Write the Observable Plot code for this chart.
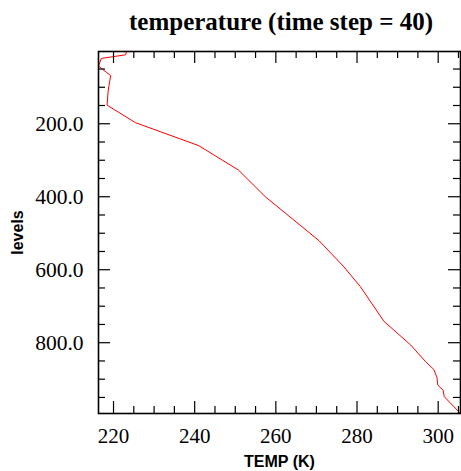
<!DOCTYPE html>
<html>
<head>
<meta charset="utf-8">
<script src="https://cdn.jsdelivr.net/npm/d3@7"></script>
<script src="https://cdn.jsdelivr.net/npm/@observablehq/plot@0.6"></script>
<style>
  html, body { margin: 0; padding: 0; background: #ffffff; }
  svg { display: block; }
</style>
</head>
<body>
<div id="chart"></div>
<script>
const titleText = "temperature (time step = 40)";
const xLabel = "TEMP (K)";
const yLabel = "levels";

// Temperature profile (K) vs model level
const temps  = [223.2, 223.0, 217.0, 216.3, 217.0, 219.3, 218.7, 218.4, 225.4, 241.0, 250.8, 257.4, 270.6, 276.6, 280.8, 286.6, 293.2, 296.9, 298.9, 299.7, 299.9, 301.2, 301.5, 305.5];
const levels = [2,     11,    21,    42,    48,    68,    108,   149,   197,   260,   327,   400,   520,   590,   646,   741,   806,   852,   873,   895,   916,   930,   948,   994];

const xMajorTicks = [220, 240, 260, 280, 300];
const xMinorTicks = [225, 230, 235, 245, 250, 255, 265, 270, 275, 285, 290, 295, 305];
const yMajorTicks = [200, 400, 600, 800];
const yMinorTicks = [50, 100, 150, 250, 300, 350, 450, 500, 550, 650, 700, 750, 850, 900, 950];

const data = temps.map((t, i) => ({t, p: levels[i]}));

const W = 461, H = 471, mL = 98, mR = 1, mT = 51, mB = 58;
const fw = W - mL - mR, fh = H - mT - mB;
const major = 12, minor = 7;
const serif = "'Liberation Serif', 'Times New Roman', serif";
const sans = "'Liberation Sans', Arial, Helvetica, sans-serif";

const chart = Plot.plot({
  width: W, height: H,
  marginLeft: mL, marginRight: mR, marginTop: mT, marginBottom: mB,
  style: {background: "#ffffff", color: "#000000"},
  x: {domain: d3.extent(temps), nice: false},
  y: {domain: d3.extent(levels), reverse: true, nice: false},
  marks: [
    Plot.line(data, {x: "t", y: "p", stroke: "#ff0000", strokeWidth: 1}),
    // inward ticks: bottom & top
    Plot.tickX(xMajorTicks, {x: d => d, insetTop: fh - major, stroke: "#000", strokeWidth: 1.2}),
    Plot.tickX(xMinorTicks, {x: d => d, insetTop: fh - minor, stroke: "#000", strokeWidth: 1.2}),
    Plot.tickX(xMajorTicks, {x: d => d, insetBottom: fh - major, stroke: "#000", strokeWidth: 1.2}),
    Plot.tickX(xMinorTicks, {x: d => d, insetBottom: fh - minor, stroke: "#000", strokeWidth: 1.2}),
    // inward ticks: left & right
    Plot.tickY(yMajorTicks, {y: d => d, insetRight: fw - major, stroke: "#000", strokeWidth: 1.2}),
    Plot.tickY(yMinorTicks, {y: d => d, insetRight: fw - minor, stroke: "#000", strokeWidth: 1.2}),
    Plot.tickY(yMajorTicks, {y: d => d, insetLeft: fw - major, stroke: "#000", strokeWidth: 1.2}),
    Plot.tickY(yMinorTicks, {y: d => d, insetLeft: fw - minor, stroke: "#000", strokeWidth: 1.2}),
    Plot.frame({stroke: "#000", strokeWidth: 1.6}),
    Plot.axisX(xMajorTicks, {anchor: "bottom", tickSize: 0, tickPadding: 14.5, fontSize: 21, fontFamily: serif, tickFormat: d => String(d), label: null, fill: "#000"}),
    Plot.axisY(yMajorTicks, {anchor: "left", tickSize: 0, tickPadding: 15, fontSize: 21.5, fontFamily: serif, tickFormat: d3.format(".1f"), label: null, fill: "#000"}),
    Plot.text([titleText], {text: d => d, frameAnchor: "top", textAnchor: "middle", dx: 1.5, dy: -29.8, lineAnchor: "middle", fontSize: 25, fontWeight: "bold", fontFamily: serif, fill: "#000"}),
    Plot.text([xLabel], {text: d => d, frameAnchor: "bottom", textAnchor: "middle", dy: 48.3, lineAnchor: "middle", fontSize: 16, fontWeight: "bold", fontFamily: sans, fill: "#000"}),
    Plot.text([yLabel], {text: d => d, frameAnchor: "left", textAnchor: "middle", dx: -80.7, rotate: -90, lineAnchor: "middle", fontSize: 16, fontWeight: "bold", fontFamily: sans, fill: "#000"})
  ]
});
document.getElementById("chart").appendChild(chart);
</script>
</body>
</html>
